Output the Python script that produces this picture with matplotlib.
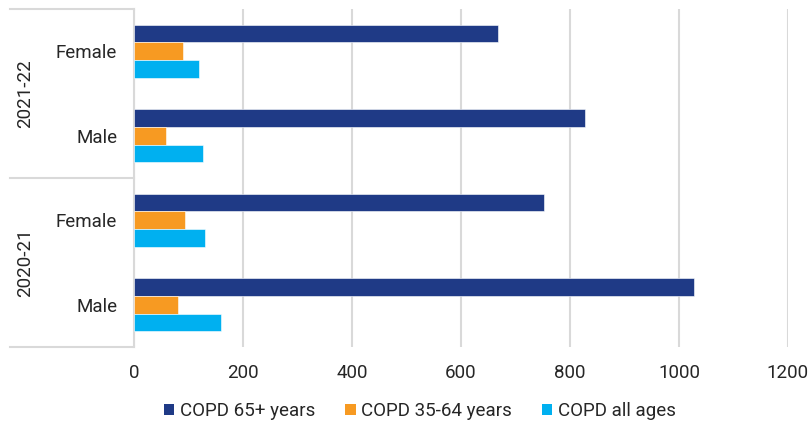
import matplotlib
matplotlib.use("Agg")
import matplotlib.pyplot as plt
from matplotlib.lines import Line2D
from matplotlib.patches import Patch
import numpy as np

plt.rcParams['font.family'] = ['Roboto', 'DejaVu Sans']

# rows listed top to bottom
years = ["2021-22", "2020-21"]
sexes = ["Female", "Male"]
row_labels = ["Female", "Male", "Female", "Male"]

series_names = ["COPD 65+ years", "COPD 35-64 years", "COPD all ages"]
copd_65_plus = [668, 827, 752, 1027]
copd_35_64 = [90, 59, 94, 81]
copd_all_ages = [119, 126, 130, 159]
colors = ["#1F3A86", "#F79A22", "#00B0F0"]

grid_color = "#D9D9D9"
text_color = "#262626"

fig = plt.figure(figsize=(8.11, 4.25), dpi=100)
ax = fig.add_axes([134 / 811, 1 - 347 / 425, 654 / 811, 338 / 425])

y = np.arange(len(row_labels))
h = 0.209
for vals, off, c in zip([copd_65_plus, copd_35_64, copd_all_ages], [-h, 0, h], colors):
    ax.barh(y + off, vals, height=h, color=c, edgecolor="white", linewidth=0.4, zorder=3)

ax.set_xlim(0, 1200)
ax.set_ylim(len(row_labels) - 0.5, -0.5)
ax.set_xticks(range(0, 1201, 200))
ax.set_yticks(y)
ax.set_yticklabels(row_labels)
ax.tick_params(axis="y", length=0, pad=12, labelsize=13.5, labelcolor=text_color)
ax.tick_params(axis="x", length=0, pad=12, labelsize=13.5, labelcolor=text_color)
ax.grid(axis="x", color=grid_color, linewidth=1.5, zorder=0)

for side in ["top", "right", "bottom"]:
    ax.spines[side].set_visible(False)
ax.spines["left"].set_color(grid_color)
ax.spines["left"].set_linewidth(1.5)

# year group boxes on the left of the category labels
x0 = (10 - 134) / 654
for yf in [1.0, 0.5, 0.0]:
    ax.add_line(Line2D([x0, 0], [yf, yf], transform=ax.transAxes, color=grid_color,
                       linewidth=1.5, clip_on=False))
for i, yr in enumerate(years):
    ax.text((25 - 134) / 654, 0.75 - 0.5 * i, yr, transform=ax.transAxes, rotation=90,
            ha="center", va="center", fontsize=13.5, color=text_color)

handles = [Patch(facecolor=c, label=n) for c, n in zip(colors, series_names)]
fig.legend(handles=handles, loc="center", bbox_to_anchor=(420 / 811, 1 - 411 / 425), ncol=3,
           frameon=False, fontsize=13.5, handlelength=0.55, handleheight=0.55,
           handletextpad=0.3, columnspacing=1.6, labelcolor=text_color)

fig.savefig("out.png", dpi=100)
